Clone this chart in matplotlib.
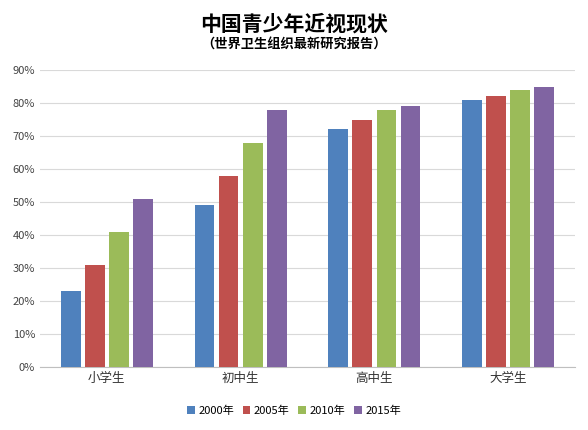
import matplotlib
matplotlib.use("Agg")
import matplotlib.pyplot as plt
import numpy as np

plt.rcParams['font.family'] = ['Noto Sans CJK SC', 'DejaVu Sans']

categories = ["小学生", "初中生", "高中生", "大学生"]
series_names = ["2000年", "2005年", "2010年", "2015年"]
values = [
    [23, 49, 72, 81],
    [31, 58, 75, 82],
    [41, 68, 78, 84],
    [51, 78, 79, 85],
]
colors = ["#4F81BD", "#C0504D", "#9BBB59", "#8064A2"]

fig = plt.figure(figsize=(5.88, 4.3), dpi=100)
ax = fig.add_axes([0.068, 0.147, 0.91, 0.69])
x = np.arange(len(categories))
w = 0.18
for i, (name, vals) in enumerate(zip(series_names, values)):
    ax.bar(x + (i - 1.5) * w, vals, w * 0.82, color=colors[i], label=name, zorder=3)

ax.set_xlim(-0.5, 3.5)
ax.set_ylim(0, 90)
ax.set_yticks(range(0, 91, 10))
ax.set_yticklabels([f"{v}%" for v in range(0, 91, 10)], fontsize=8, color="#444444")
ax.set_xticks(x)
ax.set_xticklabels(categories, fontsize=9, color="#333333")
ax.tick_params(length=0)
ax.grid(axis="y", color="#D9D9D9", lw=0.8, zorder=0)
for s in ["top", "right", "left"]:
    ax.spines[s].set_visible(False)
ax.spines["bottom"].set_color("#BFBFBF")

fig.text(0.5, 0.945, "中国青少年近视现状", ha="center", va="center", fontsize=15, fontweight="bold")
fig.text(0.5, 0.895, "（世界卫生组织最新研究报告）", ha="center", va="center", fontsize=9.5, fontweight="bold")
fig.legend(loc="lower center", bbox_to_anchor=(0.5, 0.01), ncol=4, fontsize=8, frameon=False,
           handlelength=0.7, handleheight=0.7, columnspacing=0.8, handletextpad=0.3)
fig.savefig("out.png", dpi=100)
